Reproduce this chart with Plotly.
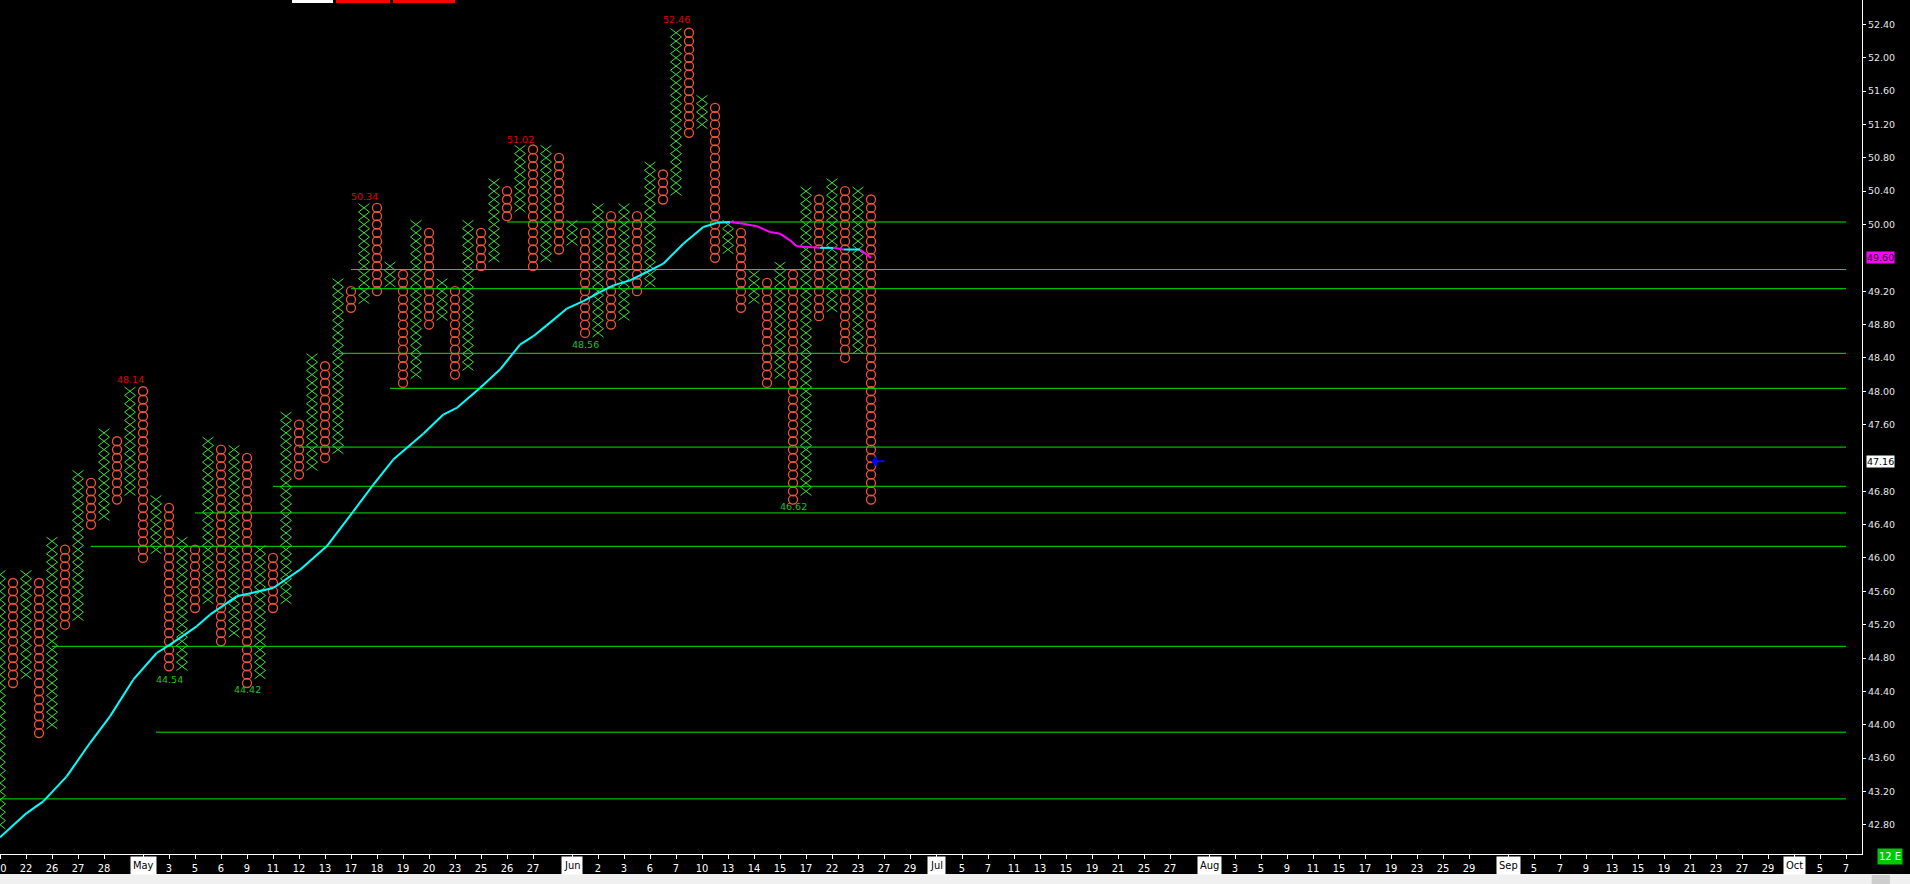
import plotly.graph_objects as go

# point & figure columns, X on even columns and O on odd ones, box = 0.10
col_high = [45.8, 45.7, 45.8, 45.7, 46.2, 46.1, 47.0, 46.9, 47.5, 47.4,
            48.0, 48.0, 46.7, 46.6, 46.2, 46.1, 47.4, 47.3, 47.3, 47.2,
            46.1, 46.0, 47.7, 47.6, 48.4, 48.3, 49.3, 49.2, 50.2, 50.2,
            49.5, 49.4, 50.0, 49.9, 49.3, 49.2, 50.0, 49.9, 50.5, 50.4,
            50.9, 50.9, 50.9, 50.8, 50.0, 49.9, 50.2, 50.1, 50.2, 50.1,
            50.7, 50.6, 52.3, 52.3, 51.5, 51.4, 50.0, 49.9, 49.4, 49.3,
            49.5, 49.4, 50.4, 50.3, 50.5, 50.4, 50.4, 50.3]
col_low = [42.8, 44.5, 44.6, 43.9, 44.0, 45.2, 45.3, 46.4, 46.5, 46.7,
           46.8, 46.0, 46.1, 44.7, 44.7, 45.4, 45.5, 45.0, 45.1, 44.5,
           44.6, 45.4, 45.5, 47.0, 47.1, 47.2, 47.3, 49.0, 49.1, 49.2,
           49.3, 48.1, 48.2, 48.8, 48.9, 48.2, 48.3, 49.5, 49.6, 50.1,
           50.2, 49.5, 49.6, 49.7, 49.8, 48.7, 48.7, 48.8, 48.9, 49.2,
           49.3, 50.3, 50.4, 51.1, 51.2, 49.6, 49.7, 49.0, 49.1, 48.1,
           48.2, 46.7, 46.8, 48.9, 49.0, 48.4, 48.5, 46.7]
box = 0.1

# extreme prices written next to the columns
label_cols = [10, 13, 19, 28, 40, 45, 52, 61]
label_vals = [48.14, 44.54, 44.42, 50.34, 51.02, 48.56, 52.46, 46.62]

# horizontal support / resistance lines: level and first column
level_vals = [50.03, 49.46, 49.23, 48.455, 48.035, 47.33, 46.86, 46.54,
              46.14, 44.94, 43.91, 43.11]
level_from = [39, 27, 27, 26, 30, 23, 21, 15, 7, 4, 12, 0]

# moving average through the columns
ma_x = [0, 2.05, 3.33, 5.13, 6.92, 8.46, 10.25, 12.05, 13.08, 15.13,
        16.15, 18.21, 21.02, 23.08, 25.13, 27.18, 28.72, 30.25, 31.28,
        32.56, 34.10, 35.13, 36.92, 38.46, 40.0, 41.02, 42.05, 43.59,
        44.87, 46.15, 47.18, 48.46, 49.75, 51.02, 52.56, 54.10, 55.13,
        56.15, 57.18, 58.21, 59.23, 60.0, 60.77, 61.28, 62.05, 63.08,
        64.10, 64.87, 66.15, 67.0]
ma_y = [42.65, 42.94, 43.08, 43.38, 43.78, 44.10, 44.54, 44.86, 44.96, 45.18,
        45.32, 45.54, 45.64, 45.86, 46.14, 46.56, 46.88, 47.18, 47.32,
        47.49, 47.72, 47.80, 48.04, 48.26, 48.56, 48.66, 48.79, 48.99,
        49.08, 49.19, 49.27, 49.33, 49.43, 49.53, 49.77, 49.97, 50.02,
        50.03, 50.01, 49.98, 49.91, 49.89, 49.81, 49.74, 49.73, 49.72,
        49.72, 49.70, 49.70, 49.60]
last_price = 47.16

# date axis
day_pos = [0, 2, 4, 6, 8, 13, 15, 17, 19, 21, 23, 25, 27, 29, 31, 33, 35,
           37, 39, 41, 46, 48, 50, 52, 54, 56, 58, 60, 62, 64, 66, 68, 70,
           74, 76, 78, 80, 82, 84, 86, 88, 90, 95, 97, 99, 101, 103, 105,
           107, 109, 111, 113, 118, 120, 122, 124, 126, 128, 130, 132, 134,
           136, 140, 142]
day_text = ["20", "22", "26", "27", "28", "3", "5", "6", "9", "11", "12",
            "13", "17", "18", "19", "20", "23", "25", "26", "27", "2", "3",
            "6", "7", "10", "13", "14", "15", "17", "22", "23", "27", "29",
            "5", "7", "11", "13", "15", "19", "21", "25", "27", "3", "5", "9",
            "11", "15", "17", "19", "23", "25", "29", "5", "7", "9", "13",
            "15", "19", "21", "23", "27", "29", "5", "7"]
month_pos = [11, 44, 72, 93, 116, 138]
month_text = ["May", "Jun", "Jul", "Aug", "Sep", "Oct"]

price_ticks = [round(42.8 + 0.4 * i, 2) for i in range(25)]

GREEN = "#3ee03e"
RED = "#ff1010"
NARROW = "Liberation Sans Narrow, DejaVu Sans Condensed, Arial Narrow"
TAHOMA = "DejaVu Sans, Verdana"

fig = go.Figure()

# X columns drawn as crossing strokes, O columns as circles
xs, ys, ox, oy = [], [], [], []
for i, (hi, lo) in enumerate(zip(col_high, col_low)):
    n = int(round((hi - lo) / box)) + 1
    for k in range(n):
        v = lo + k * box
        if i % 2 == 0:
            xs += [i - 0.42, i + 0.42, None, i - 0.42, i + 0.42, None]
            ys += [v - box / 2, v + box / 2, None, v + box / 2, v - box / 2, None]
        else:
            ox.append(i)
            oy.append(v)

fig.add_trace(go.Scatter(x=xs, y=ys, mode="lines",
                         line=dict(color=GREEN, width=1), hoverinfo="skip"))
fig.add_trace(go.Scatter(x=ox, y=oy, mode="markers",
                         marker=dict(symbol="circle-open", size=9,
                                     line=dict(color=RED, width=1.3))))

# horizontal levels
lx, ly = [], []
for v, c in zip(level_vals, level_from):
    lx += [c, 142, None]
    ly += [v, v, None]
fig.add_trace(go.Scatter(x=lx, y=ly, mode="lines",
                         line=dict(color="#00e600", width=1), hoverinfo="skip"))

# moving average: cyan while rising/flat, magenta while falling
segs = {"#00ffff": ([], []), "#ff00ff": ([], [])}
for i in range(len(ma_x) - 1):
    col = "#ff00ff" if ma_y[i + 1] < ma_y[i] and i > 30 else "#00ffff"
    segs[col][0].extend([ma_x[i], ma_x[i + 1], None])
    segs[col][1].extend([ma_y[i], ma_y[i + 1], None])
for col, (sx, sy) in segs.items():
    fig.add_trace(go.Scatter(x=sx, y=sy, mode="lines",
                             line=dict(color=col, width=2), hoverinfo="skip"))

# price labels at the swing highs (red) and lows (green)
for c, v in zip(label_cols, label_vals):
    fig.add_annotation(x=c, y=v, text=f"{v:.2f}", showarrow=False,
                       font=dict(family=TAHOMA, size=9.5,
                                 color="#e00000" if c % 2 == 0 else "#22c022"))

# last price arrow
fig.add_annotation(x=67.0, y=last_price, ax=68.15, ay=last_price,
                   axref="x", ayref="y", text="", showarrow=True,
                   arrowhead=1, arrowsize=1, arrowwidth=2,
                   arrowcolor="#0000ff")

# boxed values on the price scale
fig.add_annotation(xref="paper", x=1, xanchor="left", xshift=4,
                   y=ma_y[-1], text=f"{ma_y[-1]:.2f}", showarrow=False,
                   bgcolor="#ff00ff", borderpad=0,
                   font=dict(family=TAHOMA, size=9.5, color="#200020"))
fig.add_annotation(xref="paper", x=1, xanchor="left", xshift=4,
                   y=last_price, text=f"{last_price:.2f}", showarrow=False,
                   bgcolor="#ffffff", borderpad=0,
                   font=dict(family=TAHOMA, size=9.5, color="#000000"))

# first date sits half off the left edge
fig.add_annotation(x=day_pos[0], yref="paper", y=0, yanchor="top", yshift=-6,
                   text=day_text[0], showarrow=False,
                   font=dict(family=NARROW, size=11, color="#ffffff"))

# month boxes on the date axis
for p, t in zip(month_pos, month_text):
    fig.add_annotation(x=p, yref="paper", y=0, yanchor="top", yshift=-2,
                       text=t, showarrow=False, bgcolor="#ffffff", borderpad=2,
                       font=dict(family=NARROW, size=11, color="#000000"))

fig.add_annotation(xref="paper", x=1.008, xanchor="left", yref="paper",
                   y=-0.013, text="12 E", showarrow=False, bgcolor="#00c800",
                   borderpad=1, font=dict(family=NARROW, size=11, color="#ffffff"))

# window chrome: strip at the bottom, tabs at the top
fig.add_shape(type="rect", xref="paper", yref="paper", x0=0, x1=1.03,
              y0=-0.0235, y1=-0.04, fillcolor="#f0f0f0", line_width=0,
              layer="above")
fig.add_shape(type="rect", xref="paper", yref="paper", x0=1.0052, x1=1.015,
              y0=-0.0245, y1=-0.04, fillcolor="#cdcdcd", line_width=0,
              layer="above")
for x0, x1, c in [(292, 333, "#ffffff"), (336, 390, "#ff0000"),
                  (393, 455, "#ff0000")]:
    fig.add_shape(type="rect", xref="paper", yref="paper", x0=x0 / 1862,
                  x1=x1 / 1862, y0=1 - 3 / 854, y1=1, fillcolor=c,
                  line_width=0)

fig.update_layout(
    width=1910, height=884,
    margin=dict(l=0, r=48, t=0, b=30),
    paper_bgcolor="#000000", plot_bgcolor="#000000",
    showlegend=False,
    xaxis=dict(range=[0, 143.23], showgrid=False, zeroline=False,
               tickmode="array",
               tickvals=day_pos + month_pos,
               ticktext=[""] + day_text[1:] + [""] * len(month_pos),
               ticks="outside", ticklen=4, tickcolor="#ffffff",
               showline=True, linecolor="#ffffff", linewidth=1,
               tickfont=dict(family=NARROW, size=11, color="#ffffff")),
    yaxis=dict(range=[42.449, 52.693], side="right", showgrid=False,
               zeroline=False, tickmode="array",
               tickvals=[t for t in price_ticks if t not in (49.6, 47.2)],
               ticktext=[f"{t:.2f}" for t in price_ticks if t not in (49.6, 47.2)],
               ticks="outside", ticklen=3, tickcolor="#ffffff",
               showline=True, linecolor="#ffffff", linewidth=1,
               tickfont=dict(family=TAHOMA, size=9.5, color="#e6e6e6")),
)

fig.write_html("out.html", config={"displayModeBar": False},
               post_script="document.body.style.margin='0';"
                           "document.body.style.overflow='hidden';")
